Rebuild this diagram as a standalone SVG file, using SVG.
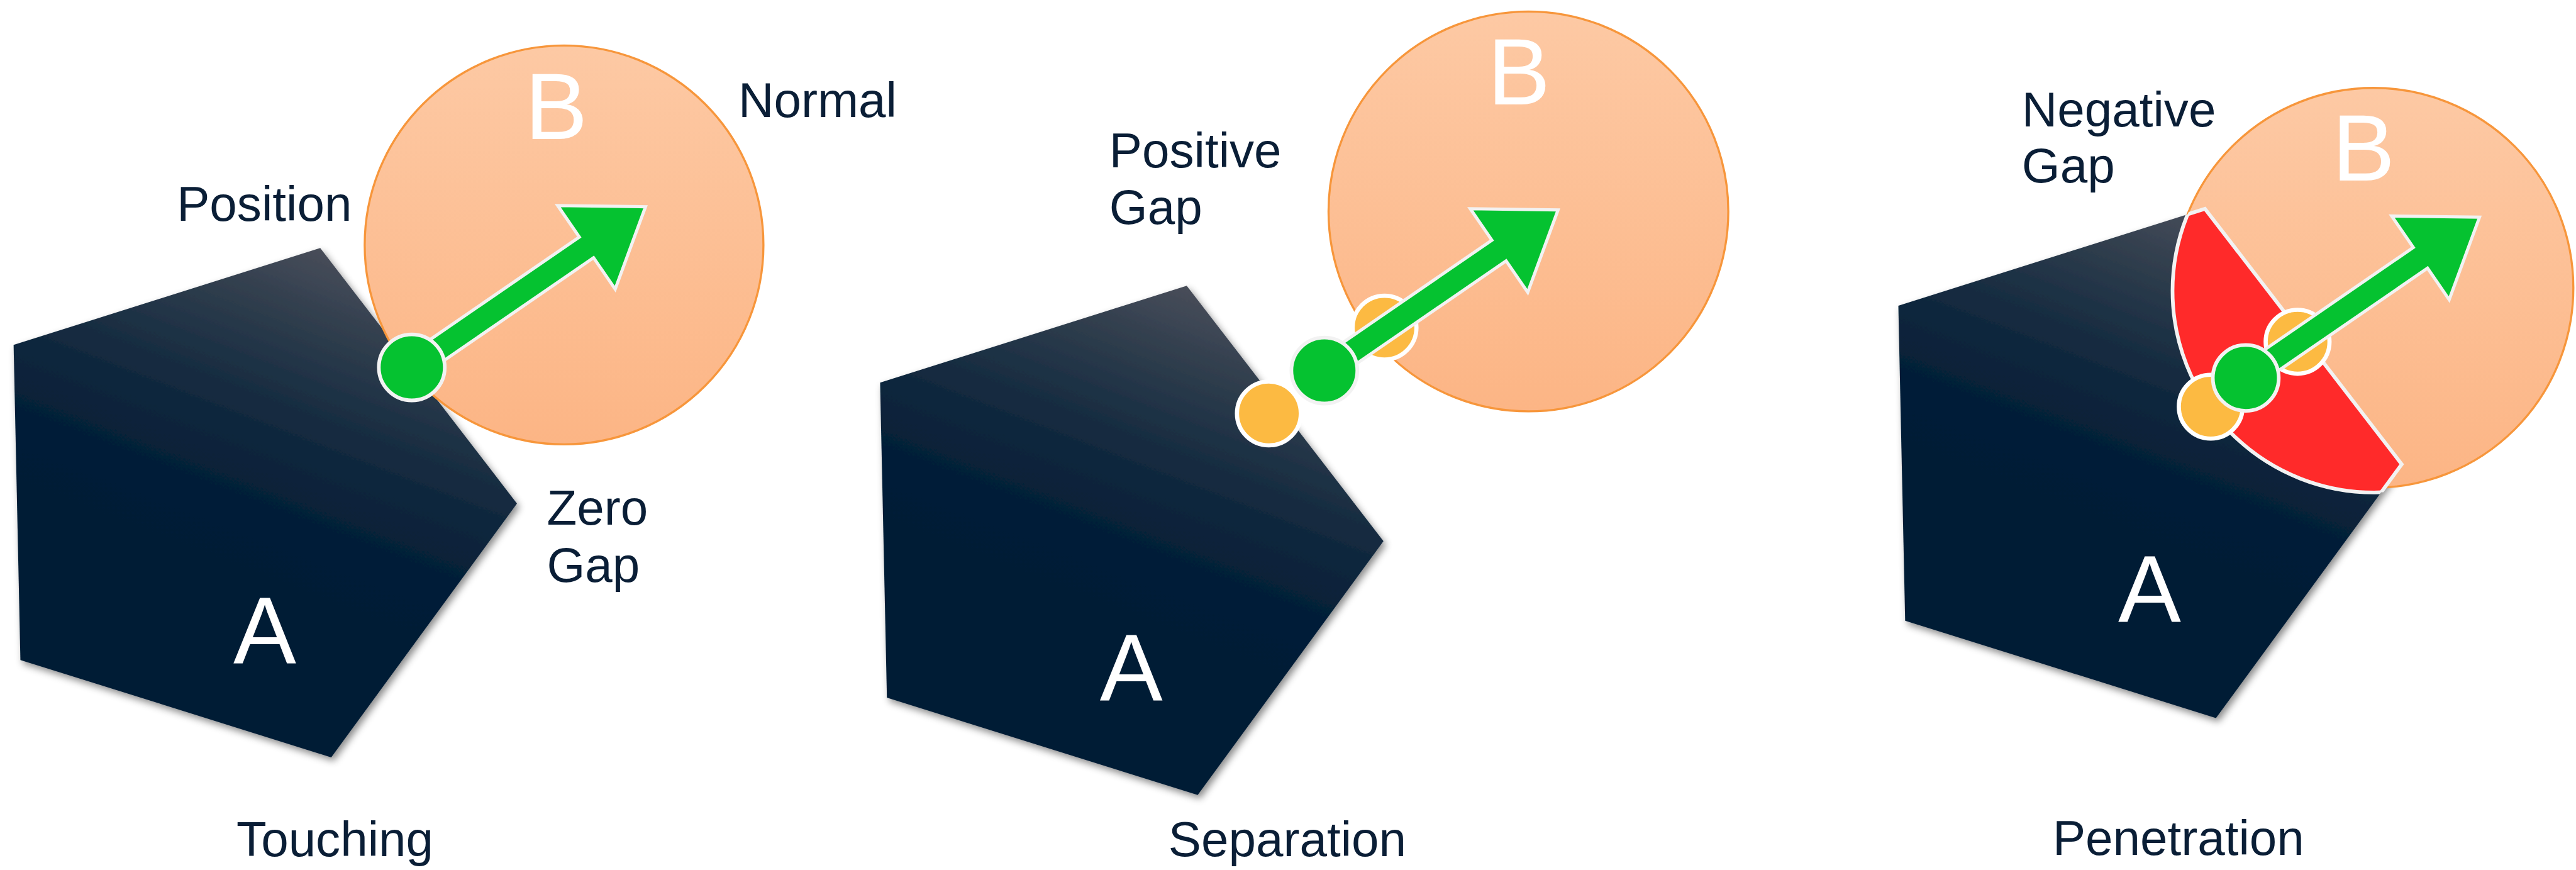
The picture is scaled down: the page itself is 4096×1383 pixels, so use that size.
<svg xmlns="http://www.w3.org/2000/svg" xmlns:xlink="http://www.w3.org/1999/xlink" width="4096" height="1383" viewBox="0 0 4096 1383">
<defs>
  <linearGradient id="gA" gradientUnits="userSpaceOnUse" x1="630" y1="470" x2="400" y2="1060">
    <stop offset="0" stop-color="#4A4F5A"/>
    <stop offset="0.1" stop-color="#3F4755"/>
    <stop offset="0.2" stop-color="#33404F"/>
    <stop offset="0.3" stop-color="#29394A"/>
    <stop offset="0.4" stop-color="#1F3245"/>
    <stop offset="0.5" stop-color="#172C41"/>
    <stop offset="0.6" stop-color="#0F273D"/>
    <stop offset="0.7" stop-color="#09233A"/>
    <stop offset="0.8" stop-color="#051F38"/>
    <stop offset="0.9" stop-color="#021E37"/>
    <stop offset="1" stop-color="#011D36"/>
  </linearGradient>
  <linearGradient id="gB" x1="0" y1="0" x2="0" y2="1">
    <stop offset="0" stop-color="#FDC9A4"/>
    <stop offset="1" stop-color="#FCB585"/>
  </linearGradient>
  <filter id="sh" x="-10%" y="-10%" width="130%" height="130%">
    <feDropShadow dx="5" dy="7" stdDeviation="7" flood-color="#000" flood-opacity="0.45"/>
  </filter>
  <polygon id="pent" points="612,474 988,962 633,1447 39,1261 26,659"/>
  <path id="arrow" d="M0,-24 H405 V-97 L542,0 L405,97 V24 H0 Z"/>
  <clipPath id="clipB3"><circle cx="4537" cy="556" r="385"/></clipPath>
  <clipPath id="clipA3"><use href="#pent" transform="translate(3602,-75)"/></clipPath>
</defs>
<style>
  .lbl{font-family:"Liberation Sans",Arial,sans-serif;font-size:94px;fill:#0A1E36}
  .big{font-family:"Liberation Sans",Arial,sans-serif;font-size:180px;fill:#FFFFFF;text-anchor:middle}
  .bodyA{fill:url(#gA);filter:url(#sh)}
  .bodyB{fill:url(#gB);stroke:#F7963B;stroke-width:4}
  .arrow{fill:#05C230;stroke:#F2F2F2;stroke-width:6;stroke-linejoin:miter}
  .pt{fill:#05C230;stroke:#F2F2F2;stroke-width:7}
  .ct{fill:#FCBA42;stroke:#FFFFFF;stroke-width:8}
</style>
<rect width="4096" height="1383" fill="#FFFFFF"/>
<g transform="scale(0.832)">
  <!-- bodies A -->
  <g id="touching-A"><use href="#pent" class="bodyA"/><text class="big" x="506" y="1267">A</text></g>
  <g id="separation-A"><use href="#pent" class="bodyA" transform="translate(1656,72)"/><text class="big" x="2162" y="1338">A</text></g>
  <g id="penetration-A"><use href="#pent" class="bodyA" transform="translate(3602,-75)"/><text class="big" x="4108" y="1187">A</text></g>
  <!-- bodies B -->
  <g id="touching-B"><circle class="bodyB" cx="1078" cy="468" r="381"/><text class="big" x="1063" y="266">B</text></g>
  <g id="separation-B"><circle class="bodyB" cx="2921" cy="404" r="382"/><text class="big" x="2903" y="199">B</text></g>
  <g id="penetration-B"><circle class="bodyB" cx="4536" cy="550" r="382"/><text class="big" x="4517" y="345">B</text></g>
  <!-- overlap -->
  <g id="penetration-overlap">
    <g clip-path="url(#clipB3)"><use href="#pent" transform="translate(3602,-75)" fill="#FF2A2A" stroke="#F2F2F2" stroke-width="7"/></g>
    <g clip-path="url(#clipA3)"><circle cx="4537" cy="556" r="385" fill="none" stroke="#F2F2F2" stroke-width="7"/></g>
  </g>
  <!-- contact points -->
  <g id="separation-pointA"><circle class="ct" cx="2425" cy="790" r="61"/></g>
  <g id="separation-pointB"><circle class="ct" cx="2646" cy="626" r="61"/></g>
  <g id="penetration-pointA"><circle class="ct" cx="4225" cy="777" r="61"/></g>
  <g id="penetration-pointB"><circle class="ct" cx="4391" cy="653" r="61"/></g>
  <!-- connectors -->
  <g id="connectors">
    <use href="#arrow" class="arrow" transform="translate(787,702) rotate(-34.5)"/>
    <use href="#arrow" class="arrow" transform="translate(2531,708) rotate(-34.5)"/>
    <use href="#arrow" class="arrow" transform="translate(4292,722) rotate(-34.5)"/>
  </g>
  <!-- positions -->
  <g id="touching-position"><circle class="pt" cx="787" cy="702" r="63"/></g>
  <g id="separation-position"><circle class="pt" cx="2531" cy="708" r="63"/></g>
  <g id="penetration-position"><circle class="pt" cx="4292" cy="722" r="63"/></g>
  <!-- labels -->
  <g id="labels">
    <text class="lbl" x="338" y="422">Position</text>
    <text class="lbl" x="1411" y="223">Normal</text>
    <text class="lbl" x="1045" y="1003">Zero</text>
    <text class="lbl" x="1045" y="1112">Gap</text>
    <text class="lbl" x="452" y="1636">Touching</text>
    <text class="lbl" x="2120" y="320">Positive</text>
    <text class="lbl" x="2120" y="428">Gap</text>
    <text class="lbl" x="2233" y="1636">Separation</text>
    <text class="lbl" x="3864" y="242">Negative</text>
    <text class="lbl" x="3864" y="348">Gap</text>
    <text class="lbl" x="3923" y="1633">Penetration</text>
  </g>
</g>
</svg>
